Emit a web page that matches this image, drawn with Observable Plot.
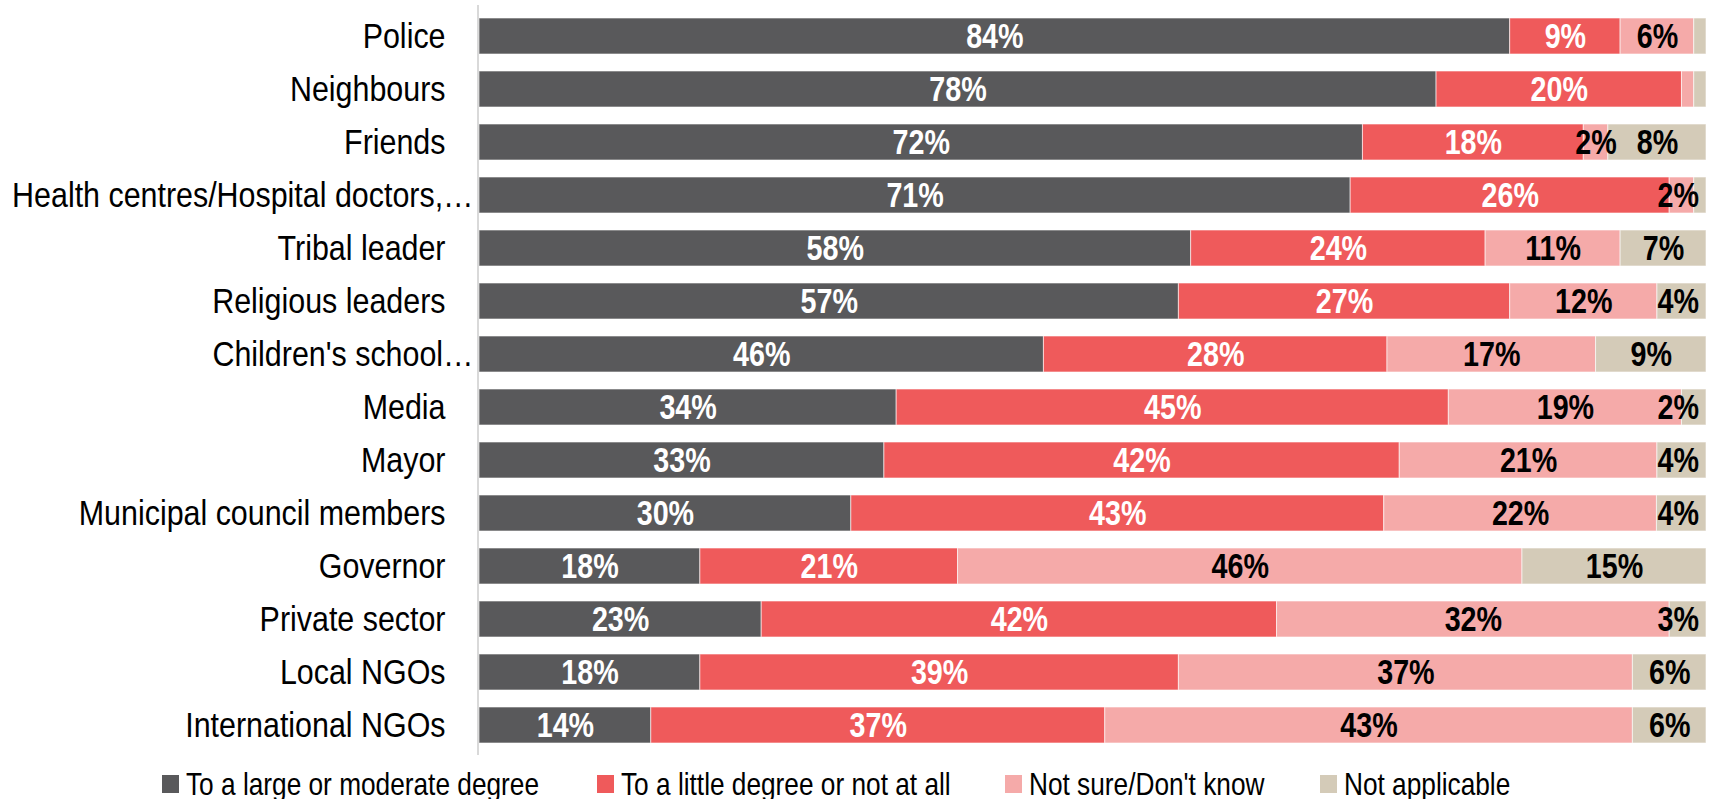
<!DOCTYPE html>
<html>
<head>
<meta charset="utf-8">
<script src="https://cdn.jsdelivr.net/npm/d3@7"></script>
<script src="https://cdn.jsdelivr.net/npm/@observablehq/plot@0.6"></script>
<style>
  body { margin: 0; background: #fff; }
  #wrap { position: relative; width: 1717px; }
  .legend { position: relative; width: 1717px; height: 44px;
    font-family: "Liberation Sans", Arial, sans-serif;
    font-size: 32px; color: #000; }
  .legend .item { position: absolute; top: 0; height: 58px; display: flex; align-items: center; white-space: nowrap; }
  .legend .sw { width: 17px; height: 18px; margin-right: 7px; flex: none; }
  .legend .lbl { display: inline-block; transform: scaleX(0.82); transform-origin: 0 50%; }
</style>
</head>
<body>
<div id="wrap"></div>
<script>
const categories = [
  "Police", "Neighbours", "Friends", "Health centres/Hospital doctors,…",
  "Tribal leader", "Religious leaders", "Children's school…", "Media", "Mayor",
  "Municipal council members", "Governor", "Private sector", "Local NGOs", "International NGOs"
];
const seriesNames = [
  "To a large or moderate degree",
  "To a little degree or not at all",
  "Not sure/Don't know",
  "Not applicable"
];
const largeModerate   = [84, 78, 72, 71, 58, 57, 46, 34, 33, 30, 18, 23, 18, 14];
const littleNotAtAll  = [ 9, 20, 18, 26, 24, 27, 28, 45, 42, 43, 21, 42, 39, 37];
const notSure         = [ 6,  1,  2,  2, 11, 12, 17, 19, 21, 22, 46, 32, 37, 43];
const notApplicable   = [ 1,  1,  8,  1,  7,  4,  9,  2,  4,  4, 15,  3,  6,  6];
const seriesColors = ["#59595b", "#ef5a5b", "#f5aaa9", "#d4cbb8"];

const seriesValues = [largeModerate, littleNotAtAll, notSure, notApplicable];
const rows = [];
categories.forEach((c, i) => {
  seriesValues.forEach((vals, j) => {
    rows.push({category: c, series: seriesNames[j], idx: j, value: vals[i]});
  });
});

const font = '"Liberation Sans", Arial, sans-serif';
const stackOpts = {x: "value", y: "category", z: "series", offset: "normalize", order: seriesNames};
const fullLabels = categories.filter(c => !c.endsWith("…"));
const cutLabels = categories.filter(c => c.endsWith("…"));

const chart = Plot.plot({
  width: 1717,
  height: 755,
  marginLeft: 479,
  marginRight: 11,
  marginTop: 5,
  marginBottom: 0,
  style: {fontFamily: font, fontSize: "36px", color: "#000", background: "#fff"},
  x: {domain: [0, 1], axis: null},
  y: {domain: categories, paddingInner: 0.327, paddingOuter: 0.17, axis: null},
  color: {domain: seriesNames, range: seriesColors},
  marks: [
    Plot.axisY(fullLabels, {tickSize: 0, tickPadding: 34, fontSize: 36, fill: "#000", label: null}),
    Plot.axisY(cutLabels, {tickSize: 0, tickPadding: 6, fontSize: 36, fill: "#000", label: null}),
    Plot.barX(rows, Plot.stackX({...stackOpts, fill: "series", stroke: "#ffffff", strokeOpacity: 0.6, strokeWidth: 1})),
    Plot.text(rows, Plot.stackX({...stackOpts,
      text: d => (d.idx < 2 && d.value >= 2) ? d.value + "%" : null,
      fill: "white", fontSize: 35, fontWeight: "bold"})),
    Plot.text(rows, Plot.stackX({...stackOpts,
      text: d => (d.idx >= 2 && d.value >= 2) ? d.value + "%" : null,
      fill: "black", fontSize: 35, fontWeight: "bold"})),
    Plot.ruleX([0], {stroke: "#d9d9d9", strokeWidth: 2, dx: -1.5})
  ]
});

// compress text horizontally (narrow typeface look) around each text's anchor
chart.querySelectorAll("text").forEach(el => {
  const SX = el.closest('g[font-weight="bold"]') ? 0.82 : 0.845;
  const t = el.getAttribute("transform") || "";
  const x = el.getAttribute("x");
  if (x != null && /^-?[\d.]+$/.test(x.trim())) {
    el.setAttribute("x", String(parseFloat(x) / SX));
  }
  el.setAttribute("transform", `${t} scale(${SX},1)`.trim());
});
document.getElementById("wrap").appendChild(chart);

// keep bar value labels inside the right end of the bars
const rightLimit = 1699;
chart.querySelectorAll('g[font-weight="bold"] text').forEach(el => {
  const r = el.getBoundingClientRect();
  const over = r.right - rightLimit;
  if (over > 0) {
    el.setAttribute("transform", `translate(${-over},0) ` + el.getAttribute("transform"));
  }
});

// legend
const legendPos = [162, 597, 1005, 1320];
const legend = document.createElement("div");
legend.className = "legend";
seriesNames.forEach((name, j) => {
  const item = document.createElement("div");
  item.className = "item";
  item.style.left = legendPos[j] + "px";
  const sw = document.createElement("span");
  sw.className = "sw";
  sw.style.background = seriesColors[j];
  const t = document.createElement("span");
  t.className = "lbl";
  t.textContent = name;
  item.appendChild(sw);
  item.appendChild(t);
  legend.appendChild(item);
});
document.getElementById("wrap").appendChild(legend);
</script>
</body>
</html>
